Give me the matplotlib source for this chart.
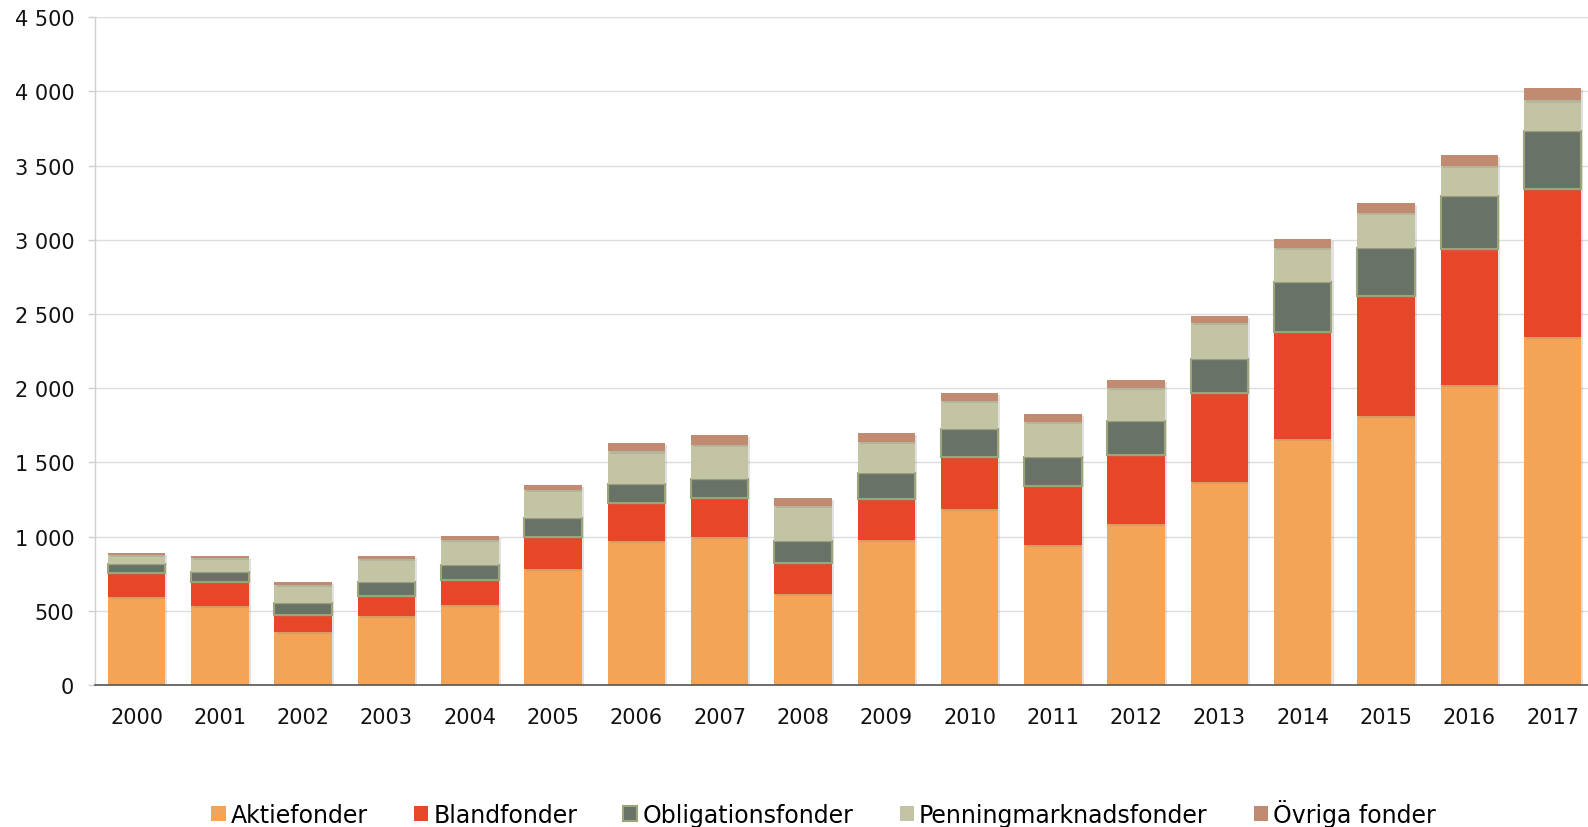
import matplotlib
matplotlib.use("Agg")
import matplotlib.pyplot as plt
import numpy as np
from matplotlib.patches import Patch
from matplotlib.ticker import FuncFormatter, MultipleLocator
from matplotlib import patheffects as pe

years = [str(y) for y in range(2000, 2018)]
aktiefonder = [593, 532, 356, 468, 541, 780, 971, 1000, 612, 980, 1184, 941, 1083, 1371, 1661, 1814, 2022, 2348]
blandfonder = [162, 162, 117, 135, 164, 218, 255, 262, 213, 271, 353, 400, 470, 600, 720, 807, 913, 997]
obligationsfonder = [62, 67, 81, 91, 101, 130, 131, 128, 148, 177, 186, 194, 229, 224, 332, 323, 359, 388]
penningmarknadsfonder = [61, 95, 122, 153, 174, 184, 217, 229, 231, 209, 192, 236, 222, 242, 235, 235, 202, 206]
ovriga_fonder = [14, 14, 18, 20, 25, 33, 58, 63, 56, 63, 56, 54, 50, 50, 59, 70, 76, 83]

series = [
    ("Aktiefonder", aktiefonder, "#f4a457", None),
    ("Blandfonder", blandfonder, "#e84628", None),
    ("Obligationsfonder", obligationsfonder, "#687267", "#9ca47a"),
    ("Penningmarknadsfonder", penningmarknadsfonder, "#c3c4a4", None),
    ("Övriga fonder", ovriga_fonder, "#c08b70", None),
]

plt.rcParams['font.family'] = ['DejaVu Sans']
fig = plt.figure(figsize=(15.88, 8.28), dpi=100)
ax = fig.add_axes([0.0598, 0.1715, 0.9402, 0.8065])

x = np.arange(len(years))
bottom = np.zeros(len(years))
shadow = [pe.SimplePatchShadow(offset=(1.5, -1.5), shadow_rgbFace='#888888', alpha=0.25), pe.Normal()]
handles = []
for name, vals, color, edge in series:
    v = np.array(vals, dtype=float)
    if edge:
        ax.bar(x, v, width=0.69, bottom=bottom, color=color, edgecolor=edge,
               linewidth=1.5, zorder=3, path_effects=shadow)
        handles.append(Patch(facecolor=color, edgecolor=edge, linewidth=1.5, label=name))
    else:
        ax.bar(x, v, width=0.69, bottom=bottom, color=color, linewidth=0,
               zorder=3, path_effects=shadow)
        handles.append(Patch(facecolor=color, linewidth=0, label=name))
    bottom += v

ax.set_xlim(-0.5, 17.425)
ax.set_ylim(0, 4500)
ax.yaxis.set_major_locator(MultipleLocator(500))
ax.yaxis.set_major_formatter(FuncFormatter(lambda v, p: f"{v:,.0f}".replace(",", " ")))
ax.set_xticks(x)
ax.set_xticklabels(years)

ax.grid(axis='y', color='#dcdcdc', linewidth=1.0, zorder=0)
ax.set_axisbelow(True)
for s in ['top', 'right']:
    ax.spines[s].set_visible(False)
ax.spines['left'].set_color('#cfcfcf')
ax.spines['left'].set_linewidth(1.0)
ax.spines['bottom'].set_color('#555555')
ax.spines['bottom'].set_linewidth(1.2)
ax.spines['bottom'].set_zorder(4)

ax.tick_params(axis='y', length=5, color='#cfcfcf', width=1.0, pad=10, labelsize=15, labelcolor='#111111')
ax.tick_params(axis='x', length=0, pad=16, labelsize=15, labelcolor='#111111')

fig.legend(handles=handles, loc='center', bbox_to_anchor=(0.5186, 0.0165), ncol=5,
           frameon=False, fontsize=17, handlelength=0.6, handleheight=0.6,
           handletextpad=0.22, columnspacing=1.95)

fig.savefig("out.png", dpi=100)
